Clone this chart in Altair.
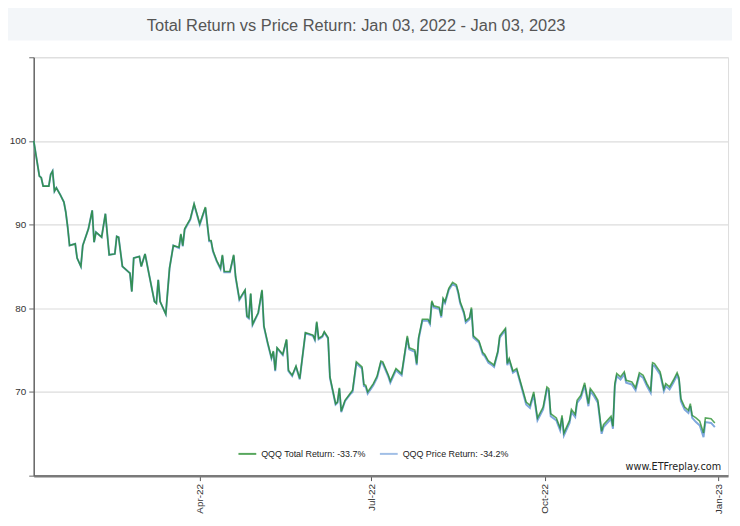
import altair as alt
import pandas as pd

TITLE = "Total Return vs Price Return: Jan 03, 2022 - Jan 03, 2023"
WATERMARK = "www.ETFreplay.com"
SERIES = ["QQQ Total Return: -33.7%", "QQQ Price Return: -34.2%"]
COLORS = ["#17861f", "#7ea7dd"]
Y_TICKS = [60, 70, 80, 90, 100, 110]

DATES = [
    "2022-01-03", "2022-01-06", "2022-01-07", "2022-01-08", "2022-01-11", "2022-01-12", "2022-01-13",
    "2022-01-14", "2022-01-15", "2022-01-17", "2022-01-19", "2022-01-20", "2022-01-21", "2022-01-22",
    "2022-01-25", "2022-01-26", "2022-01-28", "2022-01-29", "2022-02-01", "2022-02-03", "2022-02-04",
    "2022-02-05", "2022-02-08", "2022-02-10", "2022-02-12", "2022-02-15", "2022-02-16", "2022-02-17",
    "2022-02-19", "2022-02-22", "2022-02-23", "2022-02-24", "2022-02-25", "2022-02-28", "2022-03-01",
    "2022-03-03", "2022-03-05", "2022-03-08", "2022-03-09", "2022-03-10", "2022-03-11", "2022-03-14",
    "2022-03-16", "2022-03-18", "2022-03-21", "2022-03-22", "2022-03-23", "2022-03-24", "2022-03-27",
    "2022-03-29", "2022-04-01", "2022-04-04", "2022-04-06", "2022-04-07", "2022-04-08", "2022-04-10",
    "2022-04-12", "2022-04-13", "2022-04-14", "2022-04-17", "2022-04-19", "2022-04-20", "2022-04-22",
    "2022-04-25", "2022-04-26", "2022-04-27", "2022-04-28", "2022-04-29", "2022-05-02", "2022-05-04",
    "2022-05-05", "2022-05-07", "2022-05-09", "2022-05-10", "2022-05-11", "2022-05-12", "2022-05-15",
    "2022-05-17", "2022-05-18", "2022-05-20", "2022-05-22", "2022-05-24", "2022-05-27", "2022-05-31",
    "2022-06-01", "2022-06-02", "2022-06-03", "2022-06-05", "2022-06-06", "2022-06-08", "2022-06-09",
    "2022-06-12", "2022-06-13", "2022-06-14", "2022-06-15", "2022-06-17", "2022-06-20", "2022-06-21",
    "2022-06-23", "2022-06-26", "2022-06-27", "2022-06-28", "2022-06-29", "2022-07-02", "2022-07-04",
    "2022-07-06", "2022-07-07", "2022-07-10", "2022-07-11", "2022-07-14", "2022-07-17", "2022-07-20",
    "2022-07-21", "2022-07-24", "2022-07-25", "2022-07-26", "2022-07-28", "2022-07-31", "2022-08-01",
    "2022-08-02", "2022-08-03", "2022-08-06", "2022-08-07", "2022-08-08", "2022-08-09", "2022-08-11",
    "2022-08-13", "2022-08-15", "2022-08-16", "2022-08-17", "2022-08-19", "2022-08-20", "2022-08-22",
    "2022-08-23", "2022-08-24", "2022-08-27", "2022-08-29", "2022-08-30", "2022-09-01", "2022-09-03",
    "2022-09-04", "2022-09-06", "2022-09-07", "2022-09-10", "2022-09-11", "2022-09-12", "2022-09-14",
    "2022-09-16", "2022-09-18", "2022-09-21", "2022-09-23", "2022-09-25", "2022-09-27", "2022-09-30",
    "2022-10-02", "2022-10-03", "2022-10-04", "2022-10-07", "2022-10-08", "2022-10-09", "2022-10-10",
    "2022-10-11", "2022-10-14", "2022-10-15", "2022-10-17", "2022-10-18", "2022-10-20", "2022-10-22",
    "2022-10-24", "2022-10-25", "2022-10-27", "2022-10-29", "2022-10-31", "2022-11-01", "2022-11-05",
    "2022-11-06", "2022-11-07", "2022-11-08", "2022-11-10", "2022-11-12", "2022-11-13", "2022-11-16",
    "2022-11-18", "2022-11-20", "2022-11-22", "2022-11-24", "2022-11-26", "2022-11-27", "2022-11-28",
    "2022-12-01", "2022-12-03", "2022-12-04", "2022-12-06", "2022-12-08", "2022-12-10", "2022-12-11",
    "2022-12-12", "2022-12-14", "2022-12-16", "2022-12-17", "2022-12-18", "2022-12-20", "2022-12-22",
    "2022-12-23", "2022-12-24", "2022-12-25", "2022-12-28", "2022-12-30",
]

TOTAL = [
    100.0, 95.8, 95.6, 94.6, 94.6, 96.0, 96.4,
    94.0, 94.4, 93.6, 92.7, 91.5, 89.7, 87.5,
    87.7, 86.0, 85.0, 87.5, 89.5, 91.7, 87.9,
    89.1, 88.5, 91.3, 86.4, 86.5, 88.6, 88.5,
    85.0, 84.4, 84.2, 82.0, 86.0, 86.2, 85.0,
    86.5, 84.2, 80.8, 80.6, 83.4, 80.8, 79.3,
    84.8, 87.5, 87.3, 88.9, 87.5, 89.5, 90.7,
    92.5, 90.1, 92.1, 88.1, 88.1, 86.9, 85.7,
    84.8, 86.4, 84.4, 84.4, 86.4, 83.8, 81.1,
    82.2, 79.1, 78.9, 81.8, 78.1, 79.5, 82.2,
    77.9, 75.9, 74.1, 74.9, 72.6, 75.3, 74.5,
    76.3, 72.6, 72.0, 73.1, 71.6, 77.1, 76.8,
    76.3, 78.4, 76.4, 76.7, 77.2, 76.5, 71.8,
    68.6, 68.8, 70.5, 67.7, 69.0, 69.9, 70.2,
    73.6, 73.0, 70.9, 70.8, 70.0, 71.0, 71.9,
    73.7, 73.6, 72.0, 71.3, 72.8, 72.2, 76.7,
    75.3, 75.0, 73.4, 76.5, 78.7, 78.7, 78.3,
    80.9, 80.3, 80.1, 79.1, 81.2, 80.8, 82.4,
    83.1, 82.8, 82.0, 80.8, 79.6, 78.5, 78.9,
    80.1, 76.7, 76.1, 74.7, 74.5, 73.7, 73.4,
    73.2, 74.9, 76.7, 77.6, 73.4, 74.0, 72.5,
    72.8, 71.2, 68.8, 68.4, 70.0, 66.9, 68.2,
    70.6, 70.4, 67.4, 66.9, 66.3, 65.7, 67.2,
    65.1, 66.6, 67.9, 67.3, 69.0, 69.6, 71.1,
    68.6, 70.4, 69.8, 69.0, 65.3, 66.1, 67.1,
    65.9, 71.0, 72.2, 71.8, 72.4, 71.4, 71.2,
    70.5, 72.3, 72.0, 71.0, 70.2, 73.5, 73.4,
    72.4, 70.4, 71.0, 70.6, 71.4, 72.3, 71.7,
    69.2, 68.2, 67.8, 68.6, 67.2, 66.9, 66.5,
    65.8, 65.1, 66.9, 66.8, 66.3,
]

PRICE = [
    100.0, 95.8, 95.6, 94.6, 94.6, 96.0, 96.4,
    94.0, 94.4, 93.6, 92.7, 91.5, 89.7, 87.5,
    87.7, 86.0, 85.0, 87.5, 89.5, 91.7, 87.9,
    89.1, 88.5, 91.3, 86.4, 86.5, 88.6, 88.5,
    85.0, 84.4, 84.2, 82.0, 86.0, 86.2, 85.0,
    86.5, 84.2, 80.8, 80.6, 83.4, 80.8, 79.3,
    84.8, 87.5, 87.2, 88.8, 87.4, 89.4, 90.6,
    92.4, 90.0, 92.0, 88.0, 88.0, 86.8, 85.6,
    84.7, 86.3, 84.3, 84.3, 86.3, 83.7, 81.0,
    82.1, 79.0, 78.8, 81.7, 78.0, 79.4, 82.1,
    77.8, 75.8, 74.0, 74.8, 72.5, 75.2, 74.4,
    76.2, 72.5, 71.9, 73.0, 71.5, 77.0, 76.7,
    76.2, 78.3, 76.3, 76.6, 77.1, 76.4, 71.7,
    68.5, 68.7, 70.4, 67.6, 68.9, 69.8, 70.0,
    73.4, 72.8, 70.7, 70.6, 69.8, 70.8, 71.7,
    73.5, 73.4, 71.8, 71.1, 72.6, 72.0, 76.5,
    75.1, 74.8, 73.2, 76.3, 78.5, 78.5, 78.1,
    80.7, 80.1, 79.9, 78.9, 81.0, 80.6, 82.2,
    82.9, 82.6, 81.8, 80.6, 79.4, 78.3, 78.7,
    79.9, 76.5, 75.9, 74.5, 74.3, 73.5, 73.2,
    73.0, 74.7, 76.5, 77.4, 73.2, 73.8, 72.3,
    72.6, 71.0, 68.5, 68.1, 69.7, 66.6, 67.9,
    70.3, 70.1, 67.1, 66.6, 66.0, 65.4, 66.9,
    64.8, 66.3, 67.6, 67.0, 68.7, 69.3, 70.8,
    68.3, 70.1, 69.5, 68.7, 65.0, 65.8, 66.8,
    65.6, 70.7, 71.9, 71.5, 72.1, 71.1, 70.9,
    70.2, 72.0, 71.7, 70.7, 69.9, 73.2, 73.1,
    72.1, 70.1, 70.7, 70.3, 71.1, 72.0, 71.4,
    68.9, 67.9, 67.5, 68.3, 66.9, 66.4, 66.0,
    65.3, 64.6, 66.4, 66.3, 65.8,
]

n = len(DATES)
df = pd.DataFrame({
    "date": DATES + DATES,
    "value": TOTAL + PRICE,
    "series": [SERIES[0]] * n + [SERIES[1]] * n,
})

x_enc = alt.X(
    "date:T",
    scale=alt.Scale(
        type="utc",
        domain=[alt.DateTime(year=2022, month=1, date=3, utc=True),
                alt.DateTime(year=2023, month=1, date=6, utc=True)],
    ),
    axis=alt.Axis(
        values=[alt.DateTime(year=2022, month=4, date=1, utc=True),
                alt.DateTime(year=2022, month=7, date=1, utc=True),
                alt.DateTime(year=2022, month=10, date=1, utc=True),
                alt.DateTime(year=2023, month=1, date=1, utc=True)],
        format="%b-%y",
        labelAngle=-90,
        grid=False,
        title=None,
        domainColor="#7a7a7a",
        domainWidth=2.5,
        tickColor="#555555",
        tickSize=5,
        labelFont="Liberation Sans",
        labelFontSize=10,
        labelColor="#333333",
        labelPadding=3,
    ),
)

y_enc = alt.Y(
    "value:Q",
    scale=alt.Scale(domain=[60, 110], nice=False, zero=False),
    axis=alt.Axis(
        values=Y_TICKS,
        labelExpr="datum.value >= 70 && datum.value <= 100 ? datum.label : ''",
        grid=True,
        gridColor="#dcdcdc",
        gridWidth=1.2,
        title=None,
        domainColor="#666666",
        domainWidth=1.5,
        tickColor="#666666",
        tickSize=5,
        labelFont="Liberation Sans",
        labelFontSize=10,
        labelColor="#333333",
        labelPadding=3,
    ),
)

color_enc = alt.Color(
    "series:N",
    scale=alt.Scale(domain=SERIES, range=COLORS),
    legend=alt.Legend(
        orient="none",
        legendX=206,
        legendY=391,
        direction="horizontal",
        title=None,
        symbolType="stroke",
        symbolSize=324,
        symbolStrokeWidth=2,
        labelFont="Liberation Sans",
        labelFontSize=9,
        labelColor="#222222",
        labelOffset=4,
        columnPadding=10,
        padding=0,
    ),
)

base = alt.Chart(df).encode(x=x_enc, y=y_enc, color=color_enc)

price_line = base.transform_filter(alt.datum.series == SERIES[1]).mark_line(strokeWidth=2)
total_line = base.transform_filter(alt.datum.series == SERIES[0]).mark_line(strokeWidth=1.6, opacity=0.72)

band = alt.Chart(pd.DataFrame({"k": [0]})).mark_rect(color="#f3f6f9").encode(
    x=alt.value(-26), x2=alt.value(706), y=alt.value(-55), y2=alt.value(-17)
)

title_text = alt.Chart(pd.DataFrame({"t": [TITLE]})).mark_text(
    align="center", baseline="alphabetic", font="Liberation Sans", fontSize=16.6, color="#555555"
).encode(x=alt.value(326), y=alt.value(-27), text="t:N")

mark_text = alt.Chart(pd.DataFrame({"t": [WATERMARK]})).mark_text(
    align="right", baseline="middle", font="DejaVu Sans", fontSize=9.8, color="#222222"
).encode(x=alt.value(695), y=alt.value(414), text="t:N")

chart = alt.layer(band, title_text, price_line, total_line, mark_text).properties(
    width=702,
    height=423,
    autosize=alt.AutoSizeParams(type="none"),
    padding={"left": 26, "top": 47, "right": 4, "bottom": 40},
).configure_view(stroke=None).configure(background="white")

chart.save("out.html", embed_options={"renderer": "svg", "actions": False})
